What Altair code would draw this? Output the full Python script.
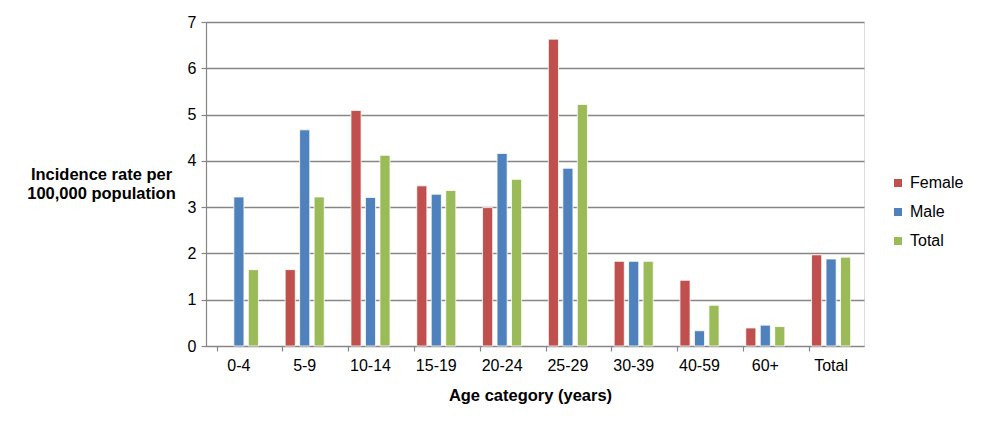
import altair as alt
import pandas as pd

categories = ["0-4", "5-9", "10-14", "15-19", "20-24", "25-29", "30-39", "40-59", "60+", "Total"]
series = ["Female", "Male", "Total"]
female = [None, 1.65, 5.09, 3.46, 2.99, 6.63, 1.83, 1.42, 0.39, 1.97]
male = [3.22, 4.67, 3.21, 3.28, 4.16, 3.84, 1.83, 0.33, 0.45, 1.88]
total = [1.65, 3.22, 4.12, 3.36, 3.60, 5.22, 1.83, 0.88, 0.42, 1.92]
colors = ["#C0504D", "#4F81BD", "#9BBB59"]

rows = []
for name, vals in zip(series, [female, male, total]):
    for c, v in zip(categories, vals):
        if v is not None:
            rows.append({"Age": c, "Series": name, "Rate": v})
df = pd.DataFrame(rows)

FONT = "Liberation Sans"

chart = alt.Chart(df).mark_bar(stroke="white", strokeWidth=0.8).encode(
    x=alt.X("Age:N", sort=categories,
            scale=alt.Scale(paddingInner=0.34, paddingOuter=0.17),
            axis=alt.Axis(title="Age category (years)", labelAngle=0,
                          labelFont=FONT, labelFontSize=16, labelColor="#000000",
                          labelPadding=6,
                          titleFont=FONT, titleFontSize=16.5, titleFontWeight="bold",
                          titleColor="#000000", titlePadding=14, titleX=324,
                          bandPosition=0, tickSize=5, tickColor="#868686",
                          domainColor="#868686", domainWidth=1.2, tickWidth=1.2,
                          grid=False)),
    xOffset=alt.XOffset("Series:N", sort=series,
                        scale=alt.Scale(paddingInner=0.3, paddingOuter=0.15)),
    y=alt.Y("Rate:Q",
            scale=alt.Scale(domain=[0, 7], nice=False),
            axis=alt.Axis(title=["Incidence rate per", "100,000 population"],
                          values=[0, 1, 2, 3, 4, 5, 6, 7], format="d",
                          labelFont=FONT, labelFontSize=16, labelColor="#000000",
                          labelPadding=5,
                          titleFont=FONT, titleFontSize=16.5, titleFontWeight="bold",
                          titleColor="#000000", titleAngle=0, titleAlign="center",
                          titleBaseline="top", titleX=-105, titleY=144, titleLineHeight=19,
                          tickSize=5, tickColor="#868686", tickWidth=1.2,
                          domainColor="#868686", domainWidth=1.2,
                          grid=True, gridColor="#868686", gridWidth=1.3)),
    color=alt.Color("Series:N", sort=series,
                    scale=alt.Scale(domain=series, range=colors),
                    legend=alt.Legend(title=None, orient="none", legendX=684, legendY=153,
                                      symbolType="square", symbolSize=64,
                                      symbolStrokeWidth=0,
                                      labelFont=FONT, labelFontSize=16,
                                      labelColor="#000000", rowPadding=13,
                                      labelOffset=4)),
).properties(
    width=658, height=324,
    autosize=alt.AutoSizeParams(type="none"),
    padding={"left": 198, "top": 14, "right": 108, "bottom": 70},
).configure_view(stroke=None).configure(background="white")

chart.save("out.html", embed_options={"renderer": "svg", "actions": False})
